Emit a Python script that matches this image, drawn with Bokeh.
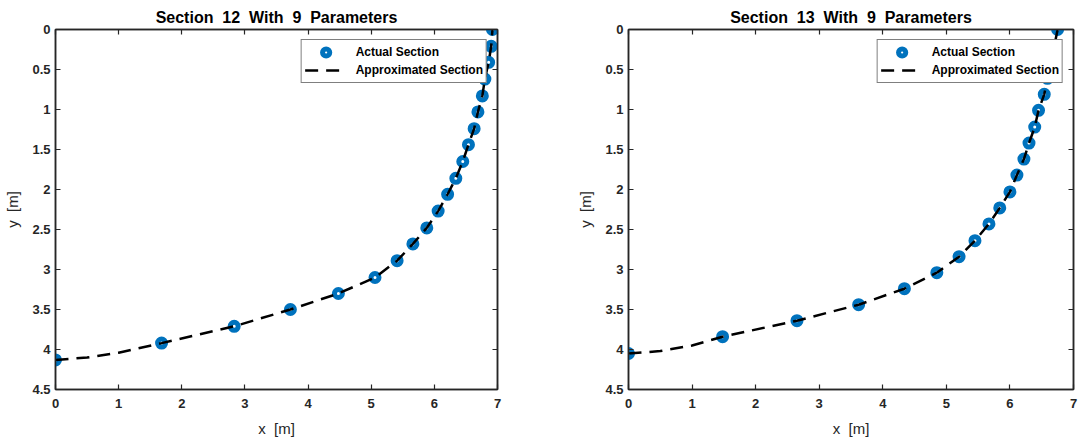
from bokeh.plotting import figure
from bokeh.models import (Range1d, LinearAxis, Legend, LegendItem,
                          FixedTicker, NumeralTickFormatter)
from bokeh.layouts import row
from bokeh.embed import file_html
from bokeh.resources import INLINE

# ---------------- data ----------------
X_TICKS = [0, 1, 2, 3, 4, 5, 6, 7]
Y_TICKS = [0, 0.5, 1, 1.5, 2, 2.5, 3, 3.5, 4, 4.5]

NB = "\u00a0"
titles = [f"Section {NB}12 {NB}With {NB}9 {NB}Parameters",
          f"Section {NB}13 {NB}With {NB}9 {NB}Parameters"]
x_label = f"x {NB}[m]"
y_label = f"y {NB}[m]"
legend_labels = ["Actual Section", "Approximated Section"]

s12_x = [0.00, 1.68, 2.83, 3.72, 4.48, 5.06, 5.41, 5.66, 5.88, 6.06, 6.21,
         6.34, 6.45, 6.54, 6.63, 6.69, 6.76, 6.80, 6.86, 6.90, 6.92]
s12_y = [4.13, 3.92, 3.71, 3.50, 3.30, 3.10, 2.89, 2.68, 2.48, 2.27, 2.06,
         1.86, 1.65, 1.44, 1.24, 1.03, 0.83, 0.62, 0.41, 0.21, 0.00]
fit12_x = [0.00, 0.50, 1.00, 1.68, 2.83, 3.72, 4.48, 5.06, 5.41, 5.66, 5.88, 6.06,
           6.21, 6.34, 6.45, 6.54, 6.63, 6.69, 6.76, 6.80, 6.86, 6.90, 6.92]
fit12_y = [4.13, 4.10, 4.04, 3.92, 3.71, 3.50, 3.30, 3.10, 2.89, 2.68, 2.48, 2.27,
           2.06, 1.86, 1.65, 1.44, 1.24, 1.03, 0.83, 0.62, 0.41, 0.21, 0.00]

s13_x = [0.00, 1.48, 2.65, 3.62, 4.34, 4.85, 5.20, 5.45, 5.67, 5.84, 6.00,
         6.11, 6.22, 6.30, 6.39, 6.45, 6.54, 6.59, 6.64, 6.70, 6.75]
s13_y = [4.05, 3.84, 3.64, 3.44, 3.24, 3.04, 2.84, 2.64, 2.43, 2.23, 2.03,
         1.82, 1.62, 1.42, 1.22, 1.01, 0.81, 0.61, 0.41, 0.20, 0.00]
fit13_x = [0.00, 0.50, 1.00, 1.48, 2.65, 3.62, 4.34, 4.85, 5.20, 5.45, 5.67, 5.84,
           6.00, 6.11, 6.22, 6.30, 6.39, 6.45, 6.54, 6.59, 6.64, 6.70, 6.75]
fit13_y = [4.05, 4.02, 3.95, 3.84, 3.64, 3.44, 3.24, 3.04, 2.84, 2.64, 2.43, 2.23,
           2.03, 1.82, 1.62, 1.42, 1.22, 1.01, 0.81, 0.61, 0.41, 0.20, 0.00]

# ---------------- style ----------------
FONT = "Liberation Sans"
AX = "#262626"
BLUE = "#0072BD"


def style_axis(ax, ticks, show_labels):
    ax.ticker = FixedTicker(ticks=ticks)
    ax.axis_line_color = AX
    ax.axis_line_width = 1.5
    ax.major_tick_line_color = AX
    ax.major_tick_line_width = 1.2
    ax.major_tick_in = 5
    ax.major_tick_out = 0
    ax.minor_tick_line_color = None
    ax.major_label_text_font = FONT
    ax.major_label_text_font_style = "bold"
    if show_labels:
        ax.major_label_text_color = AX
        ax.major_label_text_font_size = "13px"
        ax.formatter = NumeralTickFormatter(format="0.[0]")
    else:
        ax.major_label_text_color = None
        ax.major_label_text_font_size = "1px"
        ax.major_label_standoff = 0


def make(title, ax_x, ax_y, fx, fy, width, left, right):
    p = figure(width=width, height=443,
               x_range=Range1d(0, 7), y_range=Range1d(4.5, 0),
               output_backend="svg", toolbar_location=None,
               min_border_left=left, min_border_right=right,
               min_border_top=29, min_border_bottom=54)
    p.xgrid.visible = False
    p.ygrid.visible = False
    p.outline_line_color = AX
    p.outline_line_width = 1.5
    p.background_fill_color = "white"
    p.border_fill_color = "white"

    style_axis(p.xaxis[0], X_TICKS, True)
    style_axis(p.yaxis[0], Y_TICKS, True)
    p.xaxis[0].major_label_standoff = 9
    p.yaxis[0].major_label_standoff = 5

    for ax in (p.xaxis[0], p.yaxis[0]):
        ax.axis_label_text_font = FONT
        ax.axis_label_text_font_size = "15px"
        ax.axis_label_text_font_style = "normal"
        ax.axis_label_text_color = AX
    p.xaxis[0].axis_label = x_label
    p.xaxis[0].axis_label_standoff = 9
    p.yaxis[0].axis_label = y_label
    p.yaxis[0].axis_label_standoff = 8

    top = LinearAxis()
    style_axis(top, X_TICKS, False)
    p.add_layout(top, "above")
    rgt = LinearAxis()
    style_axis(rgt, Y_TICKS, False)
    p.add_layout(rgt, "right")

    p.title.text = title
    p.title.align = "center"
    p.title.text_font = FONT
    p.title.text_font_size = "16px"
    p.title.text_font_style = "bold"
    p.title.text_color = "black"
    p.title.standoff = 7
    p.title.offset = 0

    pts = p.scatter(ax_x, ax_y, marker="circle", size=8, line_width=5,
                    line_color=BLUE, fill_color="white")
    ln = p.line(fx, fy, line_color="black", line_width=2.5, line_dash="13 8")

    leg = Legend(items=[LegendItem(label=legend_labels[0], renderers=[pts]),
                        LegendItem(label=legend_labels[1], renderers=[ln])],
                 location="top_right", margin=10, padding=3, spacing=0,
                 glyph_width=42, glyph_height=18, label_height=18,
                 label_standoff=9,
                 label_text_font=FONT, label_text_font_size="12px",
                 label_text_font_style="bold", label_text_color="black",
                 border_line_color="black", border_line_width=1.5,
                 background_fill_color="white", background_fill_alpha=1.0)
    p.add_layout(leg, "center")
    return p


p1 = make(titles[0], s12_x, s12_y, fit12_x, fit12_y, 573, 55, 76)
p2 = make(titles[1], s13_x, s13_y, fit13_x, fit13_y, 505, 55, 5)

layout = row(p1, p2)
open("out.html", "w").write(file_html(layout, INLINE))
